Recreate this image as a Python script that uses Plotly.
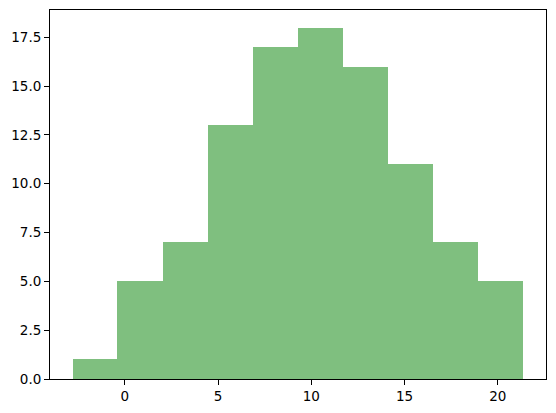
import plotly.graph_objects as go

# histogram bin edges and counts
bin_edges = [-2.80, -0.39, 2.03, 4.45, 6.87, 9.29, 11.70, 14.12, 16.54, 18.96, 21.38]
counts = [1, 5, 7, 13, 17, 18, 16, 11, 7, 5]

y_ticks = [0.0, 2.5, 5.0, 7.5, 10.0, 12.5, 15.0, 17.5]
x_ticks = [0, 5, 10, 15, 20]

centers = [(a + b) / 2 for a, b in zip(bin_edges[:-1], bin_edges[1:])]
widths = [b - a for a, b in zip(bin_edges[:-1], bin_edges[1:])]

fig = go.Figure()
fig.add_trace(go.Bar(x=centers, y=counts, width=widths,
                     marker=dict(color='rgba(0, 128, 0, 0.5)', line=dict(width=0))))

span = bin_edges[-1] - bin_edges[0]
x_range = [bin_edges[0] - 0.05 * span, bin_edges[-1] + 0.05 * span]
y_range = [0, max(counts) * 1.05]

axis_style = dict(showgrid=False, zeroline=False, showline=True, linecolor='black', linewidth=1,
                  mirror=True, ticks='outside', ticklen=5, tickwidth=1, tickcolor='black',
                  automargin=False,
                  tickfont=dict(family='DejaVu Sans', size=13.5, color='black'))

# page body has an 8px margin, so the figure is a bit smaller and margins shifted
fig.update_layout(
    width=548, height=405,
    plot_bgcolor='white', paper_bgcolor='white',
    margin=dict(l=42, r=10, t=2, b=34),
    showlegend=False, bargap=0,
)
fig.update_xaxes(range=x_range, tickvals=x_ticks, **axis_style)
fig.update_yaxes(range=y_range, tickvals=y_ticks, tickformat='.1f', **axis_style)

fig.write_html("out.html")
